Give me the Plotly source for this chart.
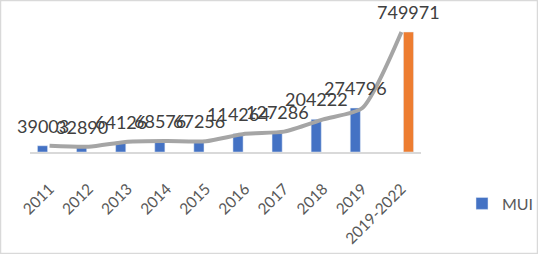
import plotly.graph_objects as go

categories = ["2011", "2012", "2013", "2014", "2015", "2016", "2017", "2018", "2019", "2019-2022"]
mui_values = [39003, 32890, 64126, 68576, 67256, 114264, 127286, 204222, 274796, None]
period_values = [None, None, None, None, None, None, None, None, None, 749971]
trend_values = [m if m is not None else p for m, p in zip(mui_values, period_values)]

W, H = 538, 254
L, R, T, B = 30, 117, 24, 102
FONT = "Lato"
BARGAP = 0.28

pw = W - L - R
ph = H - T - B
cat_px = pw / len(categories)
group_off = (1 - BARGAP) / 4 * cat_px

fig = go.Figure()
fig.add_trace(go.Bar(x=categories, y=mui_values, name="MUI", marker_color="#4472C4"))
fig.add_trace(go.Bar(x=categories, y=period_values, name="2019-2022",
                     marker_color="#ED7D31", showlegend=False))
fig.add_trace(go.Scatter(
    x=categories, y=trend_values, mode="lines", showlegend=False,
    line=dict(color="#A5A5A5", width=4, shape="spline", smoothing=0.6),
))

annotations = []
for series, shift in ((mui_values, -group_off), (period_values, group_off)):
    for i, v in enumerate(series):
        if v is None:
            continue
        annotations.append(dict(
            x=i, y=v, xref="x", yref="y", text=str(v), showarrow=False,
            xshift=shift, yshift=20, yanchor="middle", xanchor="center",
            font=dict(family=FONT, size=18, color="#404040"),
        ))

fig.update_layout(
    width=W, height=H, margin=dict(l=L, r=R, t=T, b=B, pad=0, autoexpand=False),
    paper_bgcolor="white", plot_bgcolor="white",
    barmode="group", bargap=BARGAP, bargroupgap=0.28,
    font=dict(family=FONT, size=17, color="#595959"),
    xaxis=dict(type="category", categoryarray=categories, categoryorder="array",
               range=[-0.5, len(categories) - 0.5],
               showline=True, linecolor="#D9D9D9", linewidth=1.5,
               showgrid=False, ticks="", tickangle=-45, ticklabelstandoff=20,
               tickfont=dict(family=FONT, size=15.5, color="#595959")),
    yaxis=dict(range=[0, 800000], visible=False, showgrid=False),
    legend=dict(x=(462 - L) / pw, y=(H - B - 203.5) / ph, xanchor="left", yanchor="middle",
                font=dict(family=FONT, size=16, color="#595959"),
                bgcolor="rgba(0,0,0,0)", itemwidth=30),
    annotations=annotations,
    shapes=[dict(type="rect", xref="paper", yref="paper",
                 x0=(0.5 - L) / pw, x1=(W - 0.5 - L) / pw,
                 y0=-(B - 0.5) / ph, y1=(H - B - 0.5) / ph,
                 line=dict(color="#D9D9D9", width=1.5), layer="below")],
)

fig.write_html("out.html")
